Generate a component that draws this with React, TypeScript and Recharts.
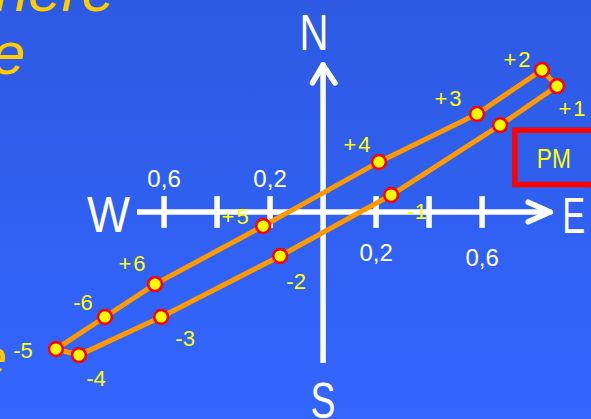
import { ReferenceArea, ReferenceLine, Scatter, ScatterChart, XAxis, YAxis } from "recharts";

// Loop of positions. East is +x, North is +y, one axis
// tick is 0,2. The last point carries no label on the original.
const POINT_LABELS = ["+1", "+2", "+3", "+4", "+5", "+6", "-6", "-5", "-4", "-3", "-2", "-1", ""];
const EAST = [0.883, 0.826, 0.581, 0.211, -0.226, -0.634, -0.823, -1.008, -0.921, -0.611, -0.162, 0.257, 0.668];
const NORTH = [0.475, 0.536, 0.37, 0.189, -0.053, -0.272, -0.396, -0.517, -0.54, -0.396, -0.166, 0.064, 0.328];

const TICK_VALUES = [-0.6, -0.4, -0.2, 0.2, 0.4, 0.6];
const TICK_TEXT = ["0,6", "", "0,2", "0,2", "", "0,6"];

// layout only: where each point label sits relative to its dot (px)
const LABEL_OFFSET: [number, number][] = [
  [16, 22], [-24, -10], [-28, -15], [-21, -17], [-27, -10], [-22, -21],
  [-22, -14], [-33, 1], [17, 23], [24, 22], [16, 25], [26, 16], [0, 0],
];
const TICK_DY = [-9, 0, -9, 33, 0, 38];

const X_DOMAIN = [-1.219, 1.011];
const Y_DOMAIN = [-0.781, 0.8];
const AXIS_W = [-0.702, 0.857];
const AXIS_NS = [-0.57, 0.555];
const TICK_HALF = 0.06;

const FONT = "'Liberation Sans', Arial, sans-serif";
const WHITE = "#ffffff";
const YELLOW = "#ffff00";

const points = POINT_LABELS.map((label, i) => ({ x: EAST[i], y: NORTH[i], label, i }));
const loop = [...points, points[0]];

function Dot(props: any) {
  const { cx, cy, payload } = props;
  const [dx, dy] = LABEL_OFFSET[payload.i];
  return (
    <g>
      <circle cx={cx} cy={cy} r={6.9} fill={YELLOW} stroke="#ff0000" strokeWidth={2.6} />
      {payload.label && (
        <text
          x={cx + dx}
          y={cy + dy}
          textAnchor="middle"
          dominantBaseline="central"
          fill={YELLOW}
          fontSize={22}
          fontFamily={FONT}
          letterSpacing={payload.label[0] === "+" ? 2 : 0}
        >
          {payload.label}
        </text>
      )}
    </g>
  );
}

const bigLetter =
  (text: string, len: number, place: "top" | "bottom" | "left" | "right") => (props: any) => {
    const { x, y, width, height } = props.viewBox;
    let tx = x;
    let ty = y;
    let anchor: "start" | "middle" | "end" = "middle";
    if (place === "top") {
      tx = x + 1.5;
      ty = y - 15;
    } else if (place === "bottom") {
      tx = x;
      ty = y + height + 55;
    } else if (place === "left") {
      tx = x - 7;
      ty = y + 20;
      anchor = "end";
    } else {
      tx = x + width + 12;
      ty = y + 21;
      anchor = "start";
    }
    return (
      <text
        x={tx}
        y={ty}
        textAnchor={anchor}
        fill={WHITE}
        fontSize={50}
        fontFamily={FONT}
        textLength={len}
        lengthAdjust="spacingAndGlyphs"
      >
        {text}
      </text>
    );
  };

const tickLabel = (text: string, dy: number) => (props: any) => {
  const { x, y, height } = props.viewBox;
  return (
    <text
      x={x}
      y={dy < 0 ? y + dy : y + height + dy}
      textAnchor="middle"
      fill={WHITE}
      fontSize={24}
      fontFamily={FONT}
    >
      {text}
    </text>
  );
};

const pmLabel = (props: any) => {
  const { x, y } = props.viewBox;
  return (
    <text x={x + 22} y={y + 38} fill={YELLOW} fontSize={27} fontFamily={FONT} textLength={34} lengthAdjust="spacingAndGlyphs">
      PM
    </text>
  );
};

export default function App() {
  const axisStyle = { stroke: WHITE, strokeWidth: 5.5, strokeLinecap: "round" as const };
  return (
    <div
      style={{
        position: "absolute",
        left: 0,
        top: 0,
        width: 591,
        height: 419,
        overflow: "hidden",
        background: "linear-gradient(to bottom, #2d5ae2, #3366ff)",
      }}
    >
      <svg width={591} height={419} style={{ position: "absolute", left: 0, top: 0 }}>
        <g fill="#ffcc00" fontFamily={FONT} fontStyle="italic">
          <text x={-5} y={11} fontSize={60}>here</text>
          <text x={-8} y={74} fontSize={60}>e</text>
          <text x={-22} y={375} fontSize={52}>e</text>
        </g>
      </svg>
      <div style={{ position: "absolute", left: 0, top: 0 }}>
        <ScatterChart width={591} height={419} margin={{ top: 0, right: 0, bottom: 0, left: 0 }}>
          <XAxis type="number" dataKey="x" domain={X_DOMAIN} allowDataOverflow hide />
          <YAxis type="number" dataKey="y" domain={Y_DOMAIN} allowDataOverflow hide />

          <ReferenceArea
            x1={0.7236}
            x2={1.1}
            y1={0.104}
            y2={0.309}
            fill="none"
            fillOpacity={0}
            stroke="#ff0000"
            strokeWidth={5.5}
            ifOverflow="visible"
            label={pmLabel}
          />

          <ReferenceLine
            segment={[{ x: AXIS_W[0], y: 0 }, { x: AXIS_W[1], y: 0 }]}
            {...axisStyle}
            strokeLinecap="butt"
            label={bigLetter("W", 43, "left")}
          />
          <ReferenceLine segment={[{ x: AXIS_W[1], y: 0 }, { x: 0.774, y: 0.037 }]} {...axisStyle} />
          <ReferenceLine
            segment={[{ x: AXIS_W[1], y: 0 }, { x: 0.774, y: -0.037 }]}
            {...axisStyle}
            label={bigLetter("E", 23, "right")}
          />
          <ReferenceLine
            segment={[{ x: 0, y: AXIS_NS[0] }, { x: 0, y: AXIS_NS[1] }]}
            {...axisStyle}
            strokeLinecap="butt"
            label={bigLetter("S", 25, "bottom")}
          />
          <ReferenceLine
            segment={[{ x: 0, y: AXIS_NS[1] }, { x: -0.04, y: 0.487 }]}
            {...axisStyle}
            label={bigLetter("N", 29, "top")}
          />
          <ReferenceLine segment={[{ x: 0, y: AXIS_NS[1] }, { x: 0.045, y: 0.487 }]} {...axisStyle} />

          {TICK_VALUES.map((t, i) => (
            <ReferenceLine
              key={t}
              segment={[{ x: t, y: -TICK_HALF }, { x: t, y: TICK_HALF }]}
              {...axisStyle}
              strokeLinecap="butt"
              label={TICK_TEXT[i] ? tickLabel(TICK_TEXT[i], TICK_DY[i]) : undefined}
            />
          ))}

          <Scatter
            data={loop}
            line={{ stroke: "#ff9900", strokeWidth: 5, strokeLinejoin: "round" }}
            shape={() => <g />}
            isAnimationActive={false}
          />
          <Scatter data={points} shape={Dot} isAnimationActive={false} />
        </ScatterChart>
      </div>
    </div>
  );
}
